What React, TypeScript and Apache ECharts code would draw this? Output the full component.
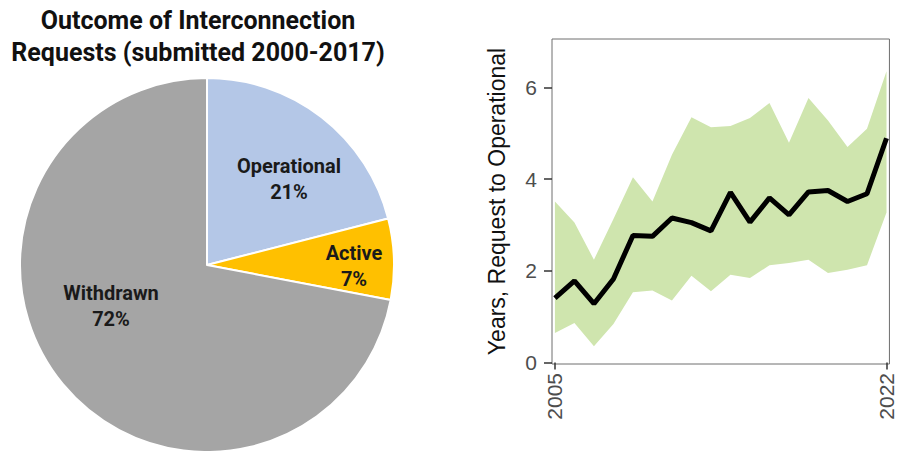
import React, { useEffect, useRef } from "react";
import * as echarts from "echarts";

const pieCategories = ["Operational", "Active", "Withdrawn"];
const pieValues = [21, 7, 72];
const pieColors = ["#b4c7e7", "#ffc000", "#a5a5a5"];

const years = [2005, 2006, 2007, 2008, 2009, 2010, 2011, 2012, 2013, 2014, 2015, 2016, 2017, 2018, 2019, 2020, 2021, 2022];
const medianYears = [1.40, 1.78, 1.28, 1.82, 2.77, 2.75, 3.15, 3.05, 2.87, 3.71, 3.06, 3.59, 3.22, 3.72, 3.75, 3.51, 3.68, 4.89];
const upperYears = [3.51, 3.05, 2.24, 3.13, 4.04, 3.51, 4.53, 5.35, 5.13, 5.16, 5.33, 5.66, 4.79, 5.77, 5.28, 4.70, 5.10, 6.35];
const lowerYears = [0.64, 0.86, 0.35, 0.84, 1.53, 1.57, 1.35, 1.89, 1.55, 1.91, 1.84, 2.12, 2.17, 2.24, 1.95, 2.02, 2.12, 3.27];
const yTicks = [0, 2, 4, 6];
const xTicks = [2005, 2022];

const labelPos: [number, number][] = [[289, 179], [354, 266], [111, 306]];

export default function App() {
  const ref = useRef<HTMLDivElement>(null);
  useEffect(() => {
    document.body.style.margin = "0";
    const chart = echarts.init(ref.current!, null, { renderer: "svg" });
    const bandData = years.map((y, i) => [y, lowerYears[i], upperYears[i]]);
    const lineData = years.map((y, i) => [y, medianYears[i]]);
    chart.setOption({
      animation: false,
      graphic: [
        {
          type: "text",
          x: 198,
          y: 4,
          style: {
            text: "Outcome of Interconnection\nRequests (submitted 2000-2017)",
            fontFamily: "Roboto",
            fontWeight: "bold",
            fontSize: 25,
            lineHeight: 32,
            fill: "#111",
            align: "center",
            verticalAlign: "top",
          },
        },
      ],
      grid: {
        left: 552,
        right: 4,
        top: 39,
        height: 325,
        show: true,
        borderColor: "#6e6e6e",
        borderWidth: 1,
        backgroundColor: "transparent",
      },
      xAxis: {
        type: "value",
        min: 2004.85,
        max: 2022.15,
        axisLine: { show: false },
        splitLine: { show: false },
        axisTick: { show: true, customValues: xTicks, length: 7, lineStyle: { color: "#333", width: 1.5 } },
        axisLabel: {
          customValues: xTicks,
          rotate: 90,
          margin: 9,
          fontFamily: "Liberation Sans",
          fontSize: 21,
          color: "#4d4d4d",
          formatter: (v: number) => String(v),
        },
      },
      yAxis: {
        type: "value",
        min: -0.035,
        max: 7.056,
        name: "Years, Request to Operational",
        nameLocation: "middle",
        nameGap: 44,
        nameTextStyle: { fontFamily: "Liberation Sans", fontSize: 23, color: "#111" },
        axisLine: { show: false },
        splitLine: { show: false },
        axisTick: { show: true, customValues: yTicks, length: 8, lineStyle: { color: "#333", width: 1.5 } },
        axisLabel: {
          customValues: yTicks,
          margin: 15,
          fontFamily: "Liberation Sans",
          fontSize: 21,
          color: "#4d4d4d",
        },
      },
      series: [
        {
          type: "pie",
          center: [207, 265],
          radius: 187,
          startAngle: 90,
          clockwise: true,
          data: pieCategories.map((c, i) => ({ name: c, value: pieValues[i], itemStyle: { color: pieColors[i] } })),
          itemStyle: { borderColor: "#fff", borderWidth: 2 },
          label: {
            show: true,
            position: "inside",
            formatter: "{b}\n{d}%",
            fontFamily: "Roboto",
            fontWeight: "bold",
            fontSize: 20,
            lineHeight: 26,
            color: "#1a1a1a",
          },
          labelLine: { show: false },
          labelLayout: (p: any) => ({
            x: labelPos[p.dataIndex][0],
            y: labelPos[p.dataIndex][1],
            align: "center",
            verticalAlign: "middle",
          }),
          emphasis: { disabled: true },
        },
        {
          type: "custom",
          data: bandData,
          encode: { x: 0, y: [1, 2] },
          renderItem: (params: any, api: any) => {
            if (params.dataIndex !== 0) return null;
            const pts: number[][] = [];
            for (let i = 0; i < years.length; i++) pts.push(api.coord([years[i], upperYears[i]]));
            for (let i = years.length - 1; i >= 0; i--) pts.push(api.coord([years[i], lowerYears[i]]));
            return { type: "polygon", shape: { points: pts }, style: { fill: "#cfe5ae" } };
          },
          z: 1,
        },
        {
          type: "line",
          data: lineData,
          showSymbol: false,
          symbol: "none",
          lineStyle: { color: "#000", width: 5 },
          z: 3,
        },
      ],
    });
    return () => chart.dispose();
  }, []);
  return <div ref={ref} style={{ width: 897, height: 451 }} />;
}
